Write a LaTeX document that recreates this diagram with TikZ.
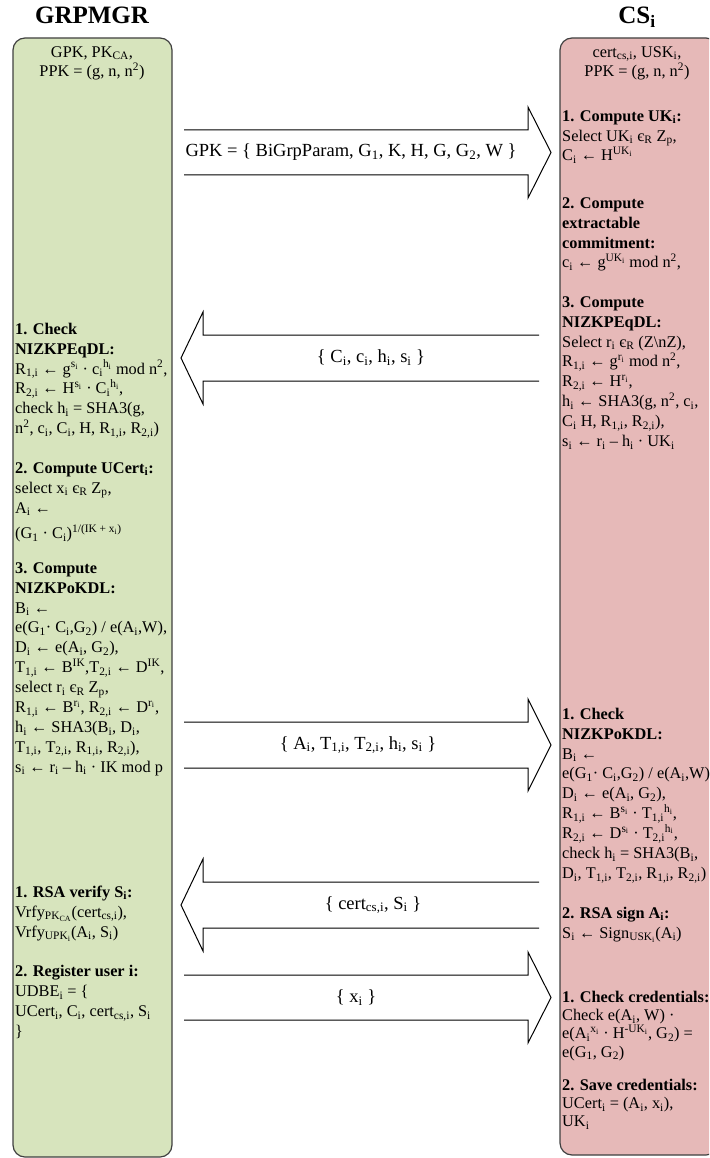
\documentclass[tikz,border=0pt]{standalone}
\usepackage{fontspec}
\setmainfont{Liberation Serif}
\newcommand{\ssb}[1]{\textsubscript{#1}}
\newcommand{\ssp}[1]{\textsuperscript{#1}}
\newcommand{\nolsk}{\lineskiplimit=-100pt\relax}
\newcommand{\fs}{\rule{0pt}{13pt}}
\definecolor{grpfill}{HTML}{D7E4BD}
\definecolor{csfill}{HTML}{E6B9B8}
\lineskiplimit=-100pt
\lineskip=0pt
\begin{document}
\begin{tikzpicture}[x=1pt,y=-1pt,
  party/.style={draw=black!75, line width=1.2pt, rounded corners=12pt},
  boxtext/.style={anchor=north west, align=left, inner sep=0pt, font={\fontsize{16.3}{19.9}\selectfont\nolsk}},
  boxtextb/.style={anchor=north west, align=left, inner sep=0pt, font={\fontsize{16.3}{18.3}\selectfont\nolsk}},
  headtext/.style={anchor=north, align=center, inner sep=0pt, font={\fontsize{16.3}{19.2}\selectfont\nolsk}},
  title/.style={anchor=base, inner sep=0pt, font={\fontsize{25}{30}\selectfont\bfseries}},
  blockarrow/.style={draw=black, line width=1pt, line join=miter},
  msg/.style={anchor=center, inner sep=0pt, font={\fontsize{18.5}{20}\selectfont}}]
\useasboundingbox (0,0) rectangle (709,1158);
\clip (0,0) rectangle (709,1158);

% party boxes
\draw[party, fill=grpfill] (13,1157) rectangle (172,38);
\draw[party, fill=csfill] (560,1155) rectangle (718,38);

% titles
\node[title] (tgrp) at (92,24) {GRPMGR};
\node[title] (tcs) at (637,24) {CS\ssb{i}};

% headers
\node[headtext] (hgrp) at (92,44) {\fs GPK, PK\ssb{CA},\\PPK = (g, n, n\ssp{2})};
\node[headtext] (hcs) at (637,44) {\fs cert\ssb{cs,i}, USK\ssb{i},\\PPK = (g, n, n\ssp{2})};

% GRPMGR steps
\node[boxtext] (g1) at (15,321) {\fs\textbf{1. Check}\\
\textbf{NIZKPEqDL:}\\
R\ssb{1,i} ← g\ssp{s\ssb{i}} · c\ssb{i}\ssp{h\ssb{i}} mod n\ssp{2},\\
R\ssb{2,i} ← H\ssp{s\ssb{i}} · C\ssb{i}\ssp{h\ssb{i}},\\
check h\ssb{i} = SHA3(g,\\
n\ssp{2}, c\ssb{i}, C\ssb{i}, H, R\ssb{1,i}, R\ssb{2,i})};

\node[boxtext] (g2) at (15,460) {\fs\textbf{2. Compute UCert\ssb{i}:}\\
select x\ssb{i} є\ssb{R} Z\ssb{p},\\
A\ssb{i} ←\\[6pt]
(G\ssb{1} · C\ssb{i})\ssp{1/(IK + x\ssb{i})}};

\node[boxtext] (g3) at (15,560) {\fs\textbf{3. Compute}\\
\textbf{NIZKPoKDL:}\\
B\ssb{i} ←\\
e(G\ssb{1}· C\ssb{i},G\ssb{2}) / e(A\ssb{i},W),\\
D\ssb{i} ← e(A\ssb{i}, G\ssb{2}),\\
T\ssb{1,i} ← B\ssp{IK},T\ssb{2,i} ← D\ssp{IK},\\
select r\ssb{i} є\ssb{R} Z\ssb{p},\\
R\ssb{1,i} ← B\ssp{r\ssb{i}}, R\ssb{2,i} ← D\ssp{r\ssb{i}},\\
h\ssb{i} ← SHA3(B\ssb{i}, D\ssb{i},\\
T\ssb{1,i}, T\ssb{2,i}, R\ssb{1,i}, R\ssb{2,i}),\\
s\ssb{i} ← r\ssb{i} – h\ssb{i} · IK mod p};

\node[boxtext] (g4) at (15,884) {\fs\textbf{1. RSA verify S\ssb{i}:}\\
Vrfy\ssb{PK\ssb{CA}}(cert\ssb{cs,i}),\\
Vrfy\ssb{UPK\ssb{i}}(A\ssb{i}, S\ssb{i})\\[19.9pt]
\textbf{2. Register user i:}\\
UDBE\ssb{i} = \{\\
UCert\ssb{i}, C\ssb{i}, cert\ssb{cs,i}, S\ssb{i}\\
\}};

% CS steps
\node[boxtext] (c1) at (562,108) {\fs\textbf{1. Compute UK\ssb{i}:}\\
Select UK\ssb{i} є\ssb{R} Z\ssb{p},\\
C\ssb{i} ← H\ssp{UK\ssb{i}}};

\node[boxtext] (c2) at (562,195) {\fs\textbf{2. Compute}\\
\textbf{extractable}\\
\textbf{commitment:}\\
c\ssb{i} ← g\ssp{UK\ssb{i}} mod n\ssp{2},};

\node[boxtext] (c3) at (562,294) {\fs\textbf{3. Compute}\\
\textbf{NIZKPEqDL:}\\
Select r\ssb{i} є\ssb{R} (Z\textbackslash nZ),\\
R\ssb{1,i} ← g\ssp{r\ssb{i}} mod n\ssp{2},\\
R\ssb{2,i} ← H\ssp{r\ssb{i}},\\
h\ssb{i} ← SHA3(g, n\ssp{2}, c\ssb{i},\\
C\ssb{i} H, R\ssb{1,i}, R\ssb{2,i}),\\
s\ssb{i} ← r\ssb{i} – h\ssb{i} · UK\ssb{i}};

\node[boxtext] (c4) at (562,706) {\fs\textbf{1. Check}\\
\textbf{NIZKPoKDL:}\\
B\ssb{i} ←\\
e(G\ssb{1}· C\ssb{i},G\ssb{2}) / e(A\ssb{i},W)\\
D\ssb{i} ← e(A\ssb{i}, G\ssb{2}),\\
R\ssb{1,i} ← B\ssp{s\ssb{i}} · T\ssb{1,i}\ssp{h\ssb{i}},\\
R\ssb{2,i} ← D\ssp{s\ssb{i}} · T\ssb{2,i}\ssp{h\ssb{i}},\\
check h\ssb{i} = SHA3(B\ssb{i},\\
D\ssb{i}, T\ssb{1,i}, T\ssb{2,i}, R\ssb{1,i}, R\ssb{2,i})\\[19.9pt]
\textbf{2. RSA sign A\ssb{i}:}\\
S\ssb{i} ← Sign\ssb{USK\ssb{i}}(A\ssb{i})};

\node[boxtextb] (c5) at (562,989) {\fs\textbf{1. Check credentials:}\\
Check e(A\ssb{i}, W) ·\\
e(A\ssb{i}\ssp{x\ssb{i}} · H\ssp{-UK\ssb{i}}, G\ssb{2}) =\\
e(G\ssb{1}, G\ssb{2})\\[14.8pt]
\textbf{2. Save credentials:}\\
UCert\ssb{i} = (A\ssb{i}, x\ssb{i}),\\
UK\ssb{i}};

% message arrows (open-ended block arrows)
\draw[blockarrow] (184,130) -- (528,130) -- (528,107) -- (551,152.5) -- (528,198) -- (528,175) -- (184,175);
\node[msg] (m1) at (351,152.5) {GPK = \{ BiGrpParam, G\ssb{1}, K, H, G, G\ssb{2}, W \}};

\draw[blockarrow] (539,335) -- (203,335) -- (203,312) -- (181,358) -- (203,404) -- (203,381) -- (539,381);
\node[msg] (m2) at (371,358) {\{ C\ssb{i}, c\ssb{i}, h\ssb{i}, s\ssb{i} \}};

\draw[blockarrow] (184,722) -- (528,722) -- (528,699) -- (551,745) -- (528,791) -- (528,768) -- (184,768);
\node[msg] (m3) at (358,745) {\{ A\ssb{i}, T\ssb{1,i}, T\ssb{2,i}, h\ssb{i}, s\ssb{i} \}};

\draw[blockarrow] (539,882) -- (203,882) -- (203,859) -- (181,905) -- (203,951) -- (203,928) -- (539,928);
\node[msg] (m4) at (373,905) {\{ cert\ssb{cs,i}, S\ssb{i} \}};

\draw[blockarrow] (184,975) -- (528,975) -- (528,952) -- (551,997.5) -- (528,1043) -- (528,1020) -- (184,1020);
\node[msg] (m5) at (356,997.5) {\{ x\ssb{i} \}};
\end{tikzpicture}
\end{document}
